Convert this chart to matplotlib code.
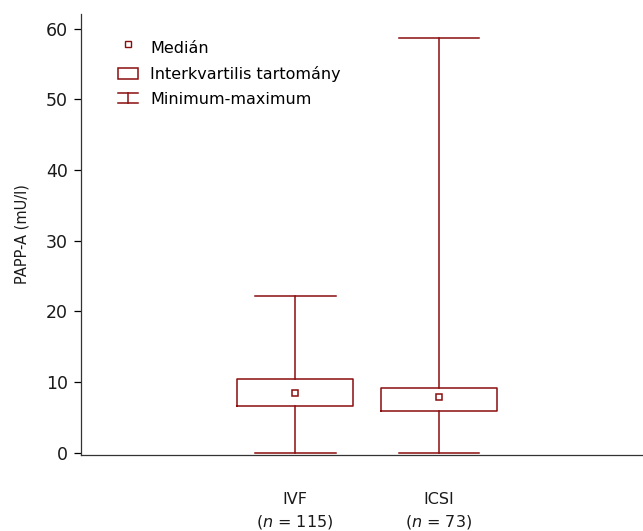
import matplotlib
matplotlib.use("Agg")
import matplotlib.pyplot as plt
from matplotlib.lines import Line2D
from matplotlib.patches import Rectangle
from matplotlib.legend_handler import HandlerBase

plt.rcParams['font.family'] = ['DejaVu Sans']
plt.rcParams['mathtext.fontset'] = 'dejavusans'

# PAPP-A summary statistics per group (mU/l)
groups = ["IVF", "ICSI"]
n_sizes = [115, 73]
medians = [8.4, 7.9]
q1 = [6.55, 5.85]
q3 = [10.4, 9.15]
minimum = [0.0, 0.0]
maximum = [22.2, 58.75]

yticks = [0, 10, 20, 30, 40, 50, 60]

red = "#8b0d0d"
lw = 1.1

fig = plt.figure(figsize=(6.43, 5.31), dpi=100)
ax = fig.add_axes([0.1252, 0.1440, 0.8748, 0.8296])

positions = [1, 2]
stats = []
for g, m, a, b, lo, hi in zip(groups, medians, q1, q3, minimum, maximum):
    stats.append(dict(label=g, med=m, q1=a, q3=b, whislo=lo, whishi=hi, fliers=[]))

ax.bxp(stats, positions=positions, widths=0.8, capwidths=0.5625,
       showfliers=False,
       boxprops=dict(color=red, linewidth=lw),
       whiskerprops=dict(color=red, linewidth=lw),
       capprops=dict(color=red, linewidth=lw),
       medianprops=dict(linewidth=0))

ax.plot(positions, medians, linestyle="none", marker="s", markersize=5,
        markerfacecolor="white", markeredgecolor=red, markeredgewidth=1.1,
        zorder=5)

ax.set_xlim(-0.49, 3.417)
ax.set_ylim(-0.28, 62.1)
ax.set_yticks(yticks)
ax.tick_params(axis="y", labelsize=12.5, length=5, width=0.9, pad=4,
               labelcolor="#1a1a1a")
ax.set_xticks(positions)
ax.set_xticklabels([f"{g}\n($n$ = {n})" for g, n in zip(groups, n_sizes)],
                   fontsize=11.5)
ax.tick_params(axis="x", length=0, pad=27, labelcolor="#1a1a1a")
for lab in ax.get_xticklabels():
    lab.set_linespacing(1.45)

ax.set_ylabel("PAPP-A (mU/l)", fontsize=10.5, labelpad=12, color="#1a1a1a")

for side in ("top", "right"):
    ax.spines[side].set_visible(False)
for side in ("left", "bottom"):
    ax.spines[side].set_linewidth(0.9)
    ax.spines[side].set_color("#333333")


class MinMaxHandler(HandlerBase):
    def create_artists(self, legend, orig_handle, xdescent, ydescent,
                       width, height, fontsize, trans):
        x0, x1 = -xdescent, -xdescent + width
        xm = (x0 + x1) / 2
        y0, y1 = -ydescent, -ydescent + height
        top = Line2D([x0, x1], [y1, y1], color=red, lw=lw, transform=trans)
        bot = Line2D([x0, x1], [y0, y0], color=red, lw=lw, transform=trans)
        mid = Line2D([xm, xm], [y0, y1], color=red, lw=lw, transform=trans)
        return [top, bot, mid]


class MedianHandler(HandlerBase):
    def create_artists(self, legend, orig_handle, xdescent, ydescent,
                       width, height, fontsize, trans):
        xm = -xdescent + width / 2
        ym = -ydescent + height * 0.8
        mk = Line2D([xm], [ym], linestyle="none", marker="s", markersize=4,
                    markerfacecolor="white", markeredgecolor=red,
                    markeredgewidth=1.0, transform=trans)
        return [mk]


h_med = Line2D([], [])
h_box = Rectangle((0, 0), 1, 1, facecolor="white", edgecolor=red, linewidth=lw)
h_rng = Line2D([], [])
leg = ax.legend([h_med, h_box, h_rng],
                ["Medián", "Interkvartilis tartomány", "Minimum-maximum"],
                handler_map={h_med: MedianHandler(), h_rng: MinMaxHandler()},
                loc="upper left", bbox_to_anchor=(0.067, 0.939),
                frameon=False, fontsize=11.5, handlelength=1.25,
                handleheight=0.65, handletextpad=0.75, labelspacing=0.62,
                borderaxespad=0, borderpad=0)

fig.savefig("out.png", dpi=100)
